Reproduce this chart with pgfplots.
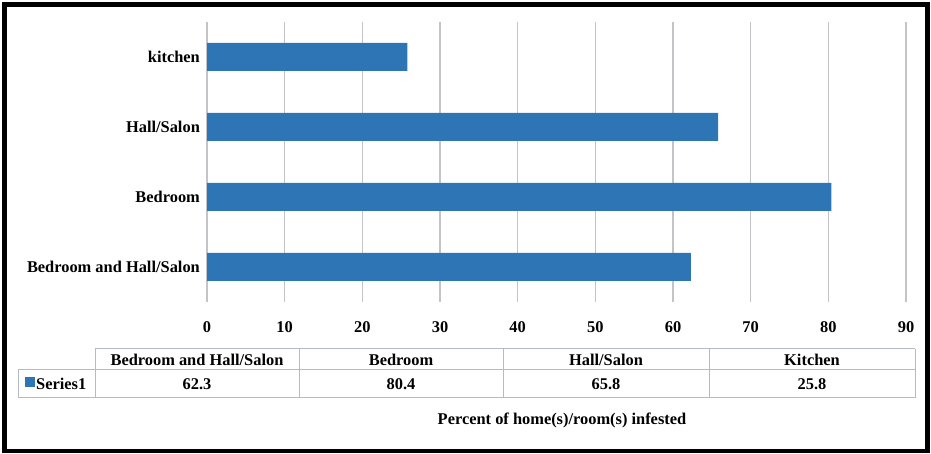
\documentclass[border=0pt]{standalone}
\usepackage{pgfplots}
\pgfplotsset{compat=1.18}
\usepackage{fontspec}
\setmainfont{Liberation Serif}
\definecolor{barblue}{HTML}{2E75B6}
\definecolor{gridgray}{HTML}{C4C4C8}
\definecolor{tabgray}{HTML}{B4BAC6}
\newcommand{\cf}{\fontsize{16.4}{19}\selectfont\bfseries}
\begin{document}
\begin{tikzpicture}[x=1pt,y=1pt]
\useasboundingbox (0,0) rectangle (931,454);
\begin{axis}[
  at={(207pt,152pt)}, anchor=south west,
  scale only axis, width=699pt, height=280pt,
  xbar, bar width=28pt,
  xmin=0, xmax=90, ymin=-0.5, ymax=3.5,
  xtick={0,10,...,90},
  ytick={0,1,2,3},
  yticklabels={Bedroom and Hall/Salon, Bedroom, Hall/Salon, kitchen},
  axis line style={draw=none},
  major tick length=0pt,
  xmajorgrids, grid style={gridgray, line width=1.4pt},
  /pgf/number format/assume math mode=true,
  tick label style={font=\cf},
  xticklabel style={anchor=base, yshift=-31pt},
  yticklabel style={anchor=east, xshift=-3.6pt},
]
\addplot[fill=barblue, draw=none] coordinates {(62.3,0) (80.4,1) (65.8,2) (25.8,3)};
\end{axis}
% data table
\begin{scope}[tabgray, line width=1pt]
\draw (95,105) -- (915,105);
\draw (18,84) -- (915,84);
\draw (18,56) -- (915,56);
\draw (18,84) -- (18,56);
\foreach \x in {95,299,503,709,915} {\draw (\x,105) -- (\x,56);}
\end{scope}
\node[font=\cf] at (197,94.5) {Bedroom and Hall/Salon};
\node[font=\cf] at (401,94.5) {Bedroom};
\node[font=\cf] at (606,94.5) {Hall/Salon};
\node[font=\cf] at (812,94.5) {Kitchen};
\fill[barblue] (25,67) rectangle (34.5,76.5);
\node[font=\cf, anchor=west, inner sep=0pt] at (36,70) {Series1};
\node[font=\cf] at (197,70) {62.3};
\node[font=\cf] at (401,70) {80.4};
\node[font=\cf] at (606,70) {65.8};
\node[font=\cf] at (812,70) {25.8};
\node[font=\cf] at (562,34) {Percent of home(s)/room(s) infested};
\draw[black, line width=4.5pt] (4.5,3) rectangle (927.5,449.5);
\end{tikzpicture}
\end{document}
